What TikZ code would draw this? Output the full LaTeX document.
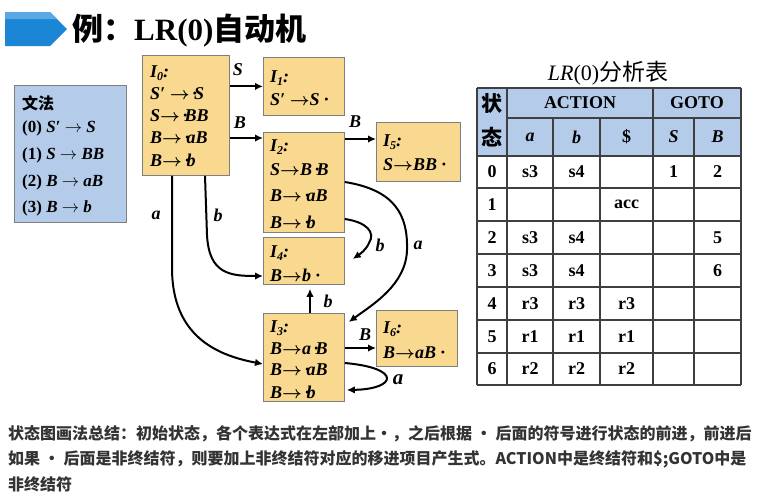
\documentclass[tikz,border=0pt]{standalone}
\usepackage{fontspec}
\setmainfont{Liberation Serif}
\newfontfamily\cjk{Noto Sans CJK SC}
\usetikzlibrary{arrows.meta}
\definecolor{boxfill}{HTML}{F9D88F}
\definecolor{boxline}{HTML}{7F7F7F}
\definecolor{gramfill}{HTML}{B4CBEA}
\definecolor{gridline}{HTML}{3F3F3F}
\definecolor{bannerblue}{HTML}{1B86D6}
\definecolor{bannerlight}{HTML}{5AA9E6}
\definecolor{notegray}{HTML}{333333}
% dot of an LR(0) item, set over the start of the next symbol
\newcommand\pdot{\makebox[0pt][l]{\kern-2.2pt\upshape·}}
\newcommand\Isub[1]{I\raisebox{-3.5pt}{\fontsize{12}{12}\selectfont #1}:}
\newcommand\yields{{\boldmath$\rightarrow$}}
\begin{document}
\begin{tikzpicture}[x=1pt,y=-1pt,
  stbox/.style={draw=boxline, fill=boxfill, line width=0.8pt, inner sep=0pt, anchor=north west},
  itemtxt/.style={anchor=west, inner sep=0pt, font=\fontsize{18}{20}\selectfont\bfseries\itshape},
  edgelbl/.style={inner sep=0pt, font=\fontsize{18}{20}\selectfont\bfseries\itshape},
  conn/.style={line width=2pt, -{Latex[length=8pt,width=7.5pt]}},
  gram/.style={anchor=west, inner sep=0pt, font=\fontsize{17}{19}\selectfont\bfseries},
  cell/.style={inner sep=0pt, font=\fontsize{18}{20}\selectfont\bfseries},
  grid/.style={draw=gridline, line width=1.1pt}
]
\useasboundingbox (0,0) rectangle (758,496);
\fill[white] (0,0) rectangle (758,496);

% heading banner
\fill[bannerblue] (5,12) -- (50,12) -- (67,29) -- (50,46) -- (5,46) -- cycle;
\fill[bannerlight] (5,12) -- (50,12) -- (57,19) -- (5,19) -- cycle;
\node[anchor=west, inner sep=0pt, font=\fontsize{31}{33}\selectfont\bfseries] (title) at (72,31)
  {{\cjk 例：}LR(0){\cjk 自动机}};

% grammar
\node[draw=boxline, fill=gramfill, line width=0.8pt, minimum width=112pt, minimum height=137pt,
  inner sep=0pt, anchor=north west] (gram) at (14,85) {};
\node[anchor=west, inner sep=0pt, font=\fontsize{16}{18}\selectfont\bfseries\cjk] (gtitle) at (22,103) {文法};
\node[gram] (g0) at (22,128) {(0) \textit{S′} $\rightarrow$ \textit{S}};
\node[gram] (g1) at (22,155) {(1) \textit{S} $\rightarrow$ \textit{BB}};
\node[gram] (g2) at (22,182) {(2) \textit{B} $\rightarrow$ \textit{aB}};
\node[gram] (g3) at (22,208) {(3) \textit{B} $\rightarrow$ \textit{b}};

% item sets
\node[stbox, minimum width=87pt, minimum height=120pt] (I0) at (142,55) {};
\node[stbox, minimum width=81pt, minimum height=58pt] (I1) at (263,57) {};
\node[stbox, minimum width=81pt, minimum height=100pt] (I2) at (263,132) {};
\node[stbox, minimum width=84pt, minimum height=59pt] (I5) at (376,122) {};
\node[stbox, minimum width=81pt, minimum height=47pt] (I4) at (263,237) {};
\node[stbox, minimum width=81pt, minimum height=88pt] (I3) at (263,313) {};
\node[stbox, minimum width=81pt, minimum height=56pt] (I6) at (376,310) {};

\node[itemtxt] (I0a) at (150,73) {\Isub{0}};
\node[itemtxt] (I0b) at (150,94) {S′ \yields\ \pdot S};
\node[itemtxt] (I0c) at (150,116) {S\yields\ \pdot BB};
\node[itemtxt] (I0d) at (150,138) {B\yields\ \pdot aB};
\node[itemtxt] (I0e) at (150,160) {B\yields\ \pdot b};

\node[itemtxt] (I1a) at (270,78) {\Isub{1}};
\node[itemtxt] (I1b) at (270,100) {S′ \yields S ·};

\node[itemtxt] (I2a) at (270,147) {\Isub{2}};
\node[itemtxt] (I2b) at (270,170) {S\yields B \pdot B};
\node[itemtxt] (I2c) at (270,196) {B\yields\ \pdot aB};
\node[itemtxt] (I2d) at (270,222) {B\yields\ \pdot b};

\node[itemtxt] (I5a) at (383,142) {\Isub{5}};
\node[itemtxt] (I5b) at (383,165) {S\yields BB ·};

\node[itemtxt] (I4a) at (270,253) {\Isub{4}};
\node[itemtxt] (I4b) at (270,275) {B\yields b ·};

\node[itemtxt] (I3a) at (270,328) {\Isub{3}};
\node[itemtxt] (I3b) at (270,349) {B\yields a \pdot B};
\node[itemtxt] (I3c) at (270,370) {B\yields\ \pdot aB};
\node[itemtxt] (I3d) at (270,392) {B\yields\ \pdot b};

\node[itemtxt] (I6a) at (383,329) {\Isub{6}};
\node[itemtxt] (I6b) at (383,353) {B\yields aB ·};

% transitions
\draw[conn] (I0.east |- I1.west) -- (I1.west);
\draw[conn] (I0.east |- 0,138) -- (I2.west |- 0,138);
\draw[conn] (I2.east |- 0,139) -- (I5.west |- 0,139);
\draw[conn] (I3.east |- 0,348) -- (I6.west |- 0,348);
\draw[conn] (I3.north -| 310,0) -- ([yshift=-4pt]I4.south -| 310,0);
\draw[conn] (I0.south -| 172,0) -- (172,270) .. controls (173,335) and (215,355) .. (I3.west |- 0,364);
\draw[conn] (I0.south -| 205,0) -- (207,235) .. controls (209,274) and (230,276) .. (I4.west |- 0,276);
\draw[conn] (I2.east |- 0,182) .. controls (395,190) and (408,215) .. (407,250)
  .. controls (406,285) and (372,305) .. ([xshift=4pt,yshift=-9pt]I3.north east);
\draw[conn] (I2.east |- 0,219) .. controls (366,222) and (376,232) .. (369,243)
  .. controls (366,250) and (360,254) .. ([xshift=8pt,yshift=-22pt]I4.north east);
\draw[conn] (I3.east |- 0,363) .. controls (402,368) and (397,389) .. ([xshift=2pt]I3.east |- 0,390);

\node[edgelbl] (lS) at (238,70) {S};
\node[edgelbl] (lB1) at (240,123) {B};
\node[edgelbl] (lB2) at (355,122) {B};
\node[edgelbl] (la1) at (156,215) {a};
\node[edgelbl] (lb1) at (218,215) {b};
\node[edgelbl] (lb2) at (380,245) {b};
\node[edgelbl] (la2) at (418,245) {a};
\node[edgelbl] (lb3) at (328,301) {b};
\node[edgelbl] (lB3) at (365,335) {B};
\node[edgelbl, font=\fontsize{21}{22}\selectfont\bfseries\itshape] (la3) at (398,380) {a};

% parsing table
\node[inner sep=0pt, font=\fontsize{22}{24}\selectfont] (ttitle) at (608,73)
  {\textit{LR}(0){\cjk\fontsize{23}{24}\selectfont 分析表}};
\fill[gramfill] (477,88) rectangle (741,156);
\draw[grid] (477,88) -- (741,88);
\draw[grid] (507,118) -- (741,118);
\foreach \yy in {156,188,221,254,287,320,353,385} \draw[grid] (477,\yy) -- (741,\yy);
\foreach \xx in {477,507,653,741} \draw[grid] (\xx,88) -- (\xx,385);
\foreach \xx in {553,600,694} \draw[grid] (\xx,118) -- (\xx,385);

\node[cell, font=\fontsize{21}{22}\selectfont\bfseries\cjk] (hst1) at (492,103) {状};
\node[cell, font=\fontsize{21}{22}\selectfont\bfseries\cjk] (hst2) at (492,137) {态};
\node[cell] (hact) at (580,103) {ACTION};
\node[cell] (hgoto) at (697,103) {GOTO};
\node[cell] (ha) at (530,137) {\textit{a}};
\node[cell] (hb) at (576.5,137) {\textit{b}};
\node[cell] (hd) at (626.5,137) {\$};
\node[cell] (hS) at (673.5,137) {\textit{S}};
\node[cell] (hB) at (717.5,137) {\textit{B}};

\node[cell] (r0) at (492,172) {0};
\node[cell] (r0a) at (530,172) {s3};
\node[cell] (r0b) at (576.5,172) {s4};
\node[cell] (r0S) at (673.5,172) {1};
\node[cell] (r0B) at (717.5,172) {2};

\node[cell] (r1) at (492,204.5) {1};
\node[cell] (r1d) at (626.5,204.5) {acc};

\node[cell] (r2) at (492,237.5) {2};
\node[cell] (r2a) at (530,237.5) {s3};
\node[cell] (r2b) at (576.5,237.5) {s4};
\node[cell] (r2B) at (717.5,237.5) {5};

\node[cell] (r3) at (492,270.5) {3};
\node[cell] (r3a) at (530,270.5) {s3};
\node[cell] (r3b) at (576.5,270.5) {s4};
\node[cell] (r3B) at (717.5,270.5) {6};

\node[cell] (r4) at (492,303.5) {4};
\node[cell] (r4a) at (530,303.5) {r3};
\node[cell] (r4b) at (576.5,303.5) {r3};
\node[cell] (r4d) at (626.5,303.5) {r3};

\node[cell] (r5) at (492,336.5) {5};
\node[cell] (r5a) at (530,336.5) {r1};
\node[cell] (r5b) at (576.5,336.5) {r1};
\node[cell] (r5d) at (626.5,336.5) {r1};

\node[cell] (r6) at (492,369) {6};
\node[cell] (r6a) at (530,369) {r2};
\node[cell] (r6b) at (576.5,369) {r2};
\node[cell] (r6d) at (626.5,369) {r2};

% summary note
\begin{scope}[every node/.style={anchor=west, inner sep=0pt, text=notegray, font=\fontsize{16}{18}\selectfont\cjk\bfseries}]
\node (n1) at (8,434) {状态图画法总结：初始状态，各个表达式在左部加上·，之后根据 · 后面的符号进行状态的前进，前进后};
\node (n2) at (8,459) {如果 · 后面是非终结符，则要加上非终结符对应的移进项目产生式。ACTION中是终结符和\$;GOTO中是};
\node (n3) at (8,484) {非终结符};
\end{scope}
\end{tikzpicture}
\end{document}
